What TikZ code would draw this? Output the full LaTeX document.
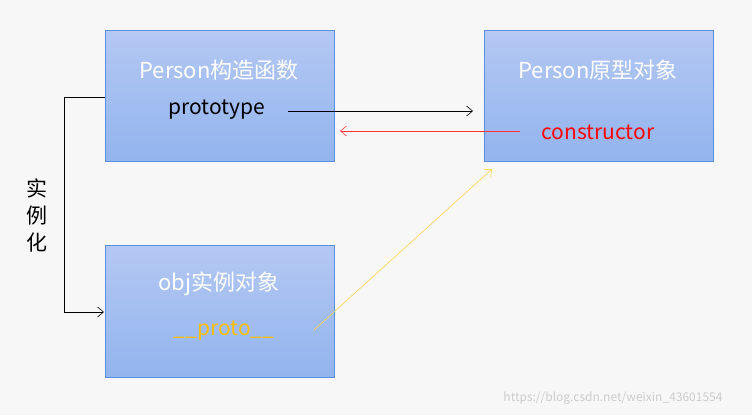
\documentclass[tikz,border=0pt]{standalone}
\usepackage{fontspec}
\setmainfont{Noto Sans CJK SC}
\usetikzlibrary{arrows.meta}
\definecolor{topc}{HTML}{B4C8F3}
\definecolor{botc}{HTML}{93B4EE}
\definecolor{edgec}{HTML}{5B8FE0}
\definecolor{orng}{HTML}{FFC000}
\tikzset{
 box/.style={draw=edgec, line width=0.8pt, top color=topc, bottom color=botc},
 title/.style={text=white, font=\fontsize{22}{24}\selectfont},
 lab/.style={font=\fontsize{21}{23}\selectfont},
 arr/.style={-{Straight Barb[length=6pt,width=10pt]}, line width=0.6pt}
}
\begin{document}
\begin{tikzpicture}[x=1pt,y=-1pt]
\fill[white!97!black] (0,0) rectangle (752,415);
\useasboundingbox (0,0) rectangle (752,415);
\path[box] (105,30) rectangle (334,161);
\path[box] (484,30) rectangle (713,161);
\path[box] (105,245) rectangle (334,377);
\node[title] (t1) at (219,70) {Person构造函数};
\node[lab] (pt) at (217,110) {prototype};
\node[title] (t2) at (598,70) {Person原型对象};
\node[lab,text=red] (ct) at (598,132) {constructor};
\node[title] (t3) at (219,284) {obj实例对象};
\node[lab,text=orng] (pr) at (224,331) {\_\_proto\_\_};
\coordinate (a1) at (288,111); \coordinate (a2) at (473,111);
\coordinate (b1) at (520,131); \coordinate (b2) at (340,131);
\coordinate (c1) at (314,330); \coordinate (c2) at (492,169);
\draw[arr] (a1) -- (a2);
\draw[arr, red!80!white] (b1) -- (b2);
\draw[arr, orng!70!white] (c1) -- (c2);
\coordinate (d1) at (105,97); \coordinate (d2) at (104,312);
\draw[arr] (d1) -- (64,97) -- (64,312) -- (d2);
\node[font=\fontsize{21}{23}\selectfont, align=center, inner sep=0pt] (sl) at (37,215) {实\\[4pt]例\\[4pt]化};
\node[text=white!80!black, font=\fontsize{12}{14}\selectfont] (wm) at (613,398) {https://blog.csdn.net/weixin\_43601554};
\end{tikzpicture}
\end{document}
